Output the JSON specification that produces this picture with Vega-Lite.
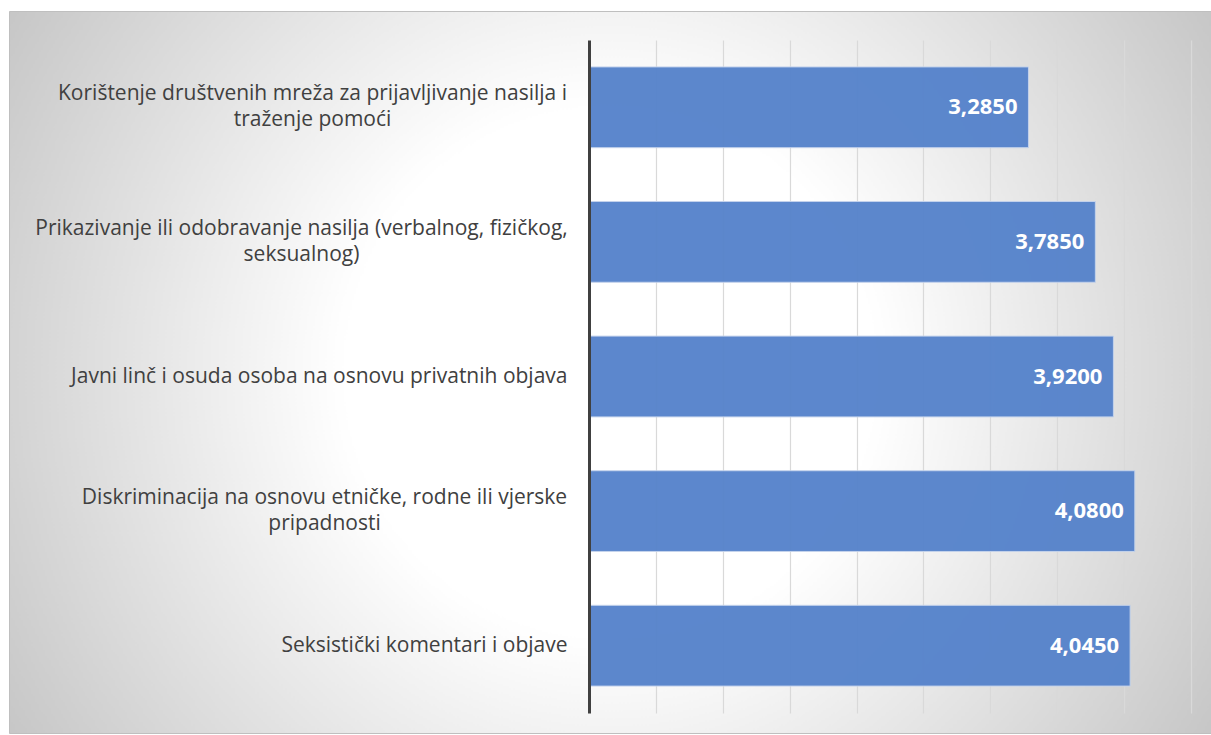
{
  "$schema": "https://vega.github.io/schema/vega-lite/v6.json",
  "width": 1202,
  "height": 722,
  "autosize": {"type": "none"},
  "padding": {"left": 9, "top": 11, "right": 0, "bottom": 2},
  "background": "#ffffff",
  "config": {
    "locale": {"number": {"decimal": ",", "thousands": ".", "grouping": [3], "currency": ["", ""]}}
  },
  "view": {
    "fill": {
      "gradient": "radial",
      "x1": 0.5, "y1": 0.5, "r1": 0.22,
      "x2": 0.5, "y2": 0.5, "r2": 0.585,
      "stops": [
        {"offset": 0, "color": "#ffffff"},
        {"offset": 1, "color": "#c6c6c6"}
      ]
    },
    "stroke": "#bfbfbf",
    "strokeWidth": 1
  },
  "data": {
    "values": [
      {"category": "Korištenje društvenih mreža za prijavljivanje nasilja i\ntraženje pomoći", "value": 3.285},
      {"category": "Prikazivanje ili odobravanje nasilja (verbalnog, fizičkog,\nseksualnog)", "value": 3.785},
      {"category": "Javni linč i osuda osoba na osnovu privatnih objava", "value": 3.92},
      {"category": "Diskriminacija na osnovu etničke, rodne ili vjerske\npripadnosti", "value": 4.08},
      {"category": "Seksistički komentari i objave", "value": 4.045}
    ]
  },
  "encoding": {
    "y": {
      "field": "category",
      "type": "nominal",
      "sort": null,
      "scale": {"range": [29, 702], "paddingInner": 0.4, "paddingOuter": 0.2},
      "axis": {
        "title": null,
        "orient": "left",
        "offset": -580,
        "domainColor": "#404040",
        "domainWidth": 3,
        "ticks": false,
        "tickSize": 0,
        "grid": false,
        "labelPadding": {
          "condition": [
            {"test": "indexof(datum.value, 'Kori') === 0", "value": 277},
            {"test": "indexof(datum.value, 'Prik') === 0", "value": 288},
            {"test": "indexof(datum.value, 'Disk') === 0", "value": 265}
          ],
          "value": 22
        },
        "labelFont": "Open Sans",
        "labelFontSize": 21,
        "labelColor": "#404040",
        "labelLimit": 700,
        "labelLineHeight": 26,
        "labelAlign": {"condition": {"test": "indexof(datum.value, '\\n') >= 0", "value": "center"}, "value": "right"},
        "labelBaseline": "middle",
        "labelOffset": {"condition": {"test": "indexof(datum.value, '\\n') >= 0", "value": -13}, "value": 0},
        "labelExpr": "split(datum.label, '\\n')",
        "zindex": 1
      }
    }
  },
  "layer": [
    {
      "mark": {"type": "bar", "fill": "#5683cb", "opacity": 0.96, "stroke": "#c3d2ec", "strokeWidth": 1},
      "encoding": {
        "x": {
          "field": "value",
          "type": "quantitative",
          "scale": {"domain": [-4.3355, 4.6495], "nice": false, "zero": false},
          "axis": {
            "title": null,
            "orient": "top",
            "labels": false,
            "ticks": false,
            "domain": false,
            "grid": true,
            "values": [0.5, 1, 1.5, 2, 2.5, 3, 3.5, 4, 4.5],
            "gridColor": "#d9d9d9",
            "gridWidth": 1.2
          }
        },
        "x2": {"datum": 0}
      }
    },
    {
      "mark": {"type": "text", "align": "right", "baseline": "middle", "dx": -11, "font": "Open Sans", "fontSize": 22, "fontWeight": "bold", "fill": "#ffffff"},
      "encoding": {
        "x": {"field": "value", "type": "quantitative"},
        "text": {"field": "value", "type": "quantitative", "format": ".4f"}
      }
    }
  ]
}
